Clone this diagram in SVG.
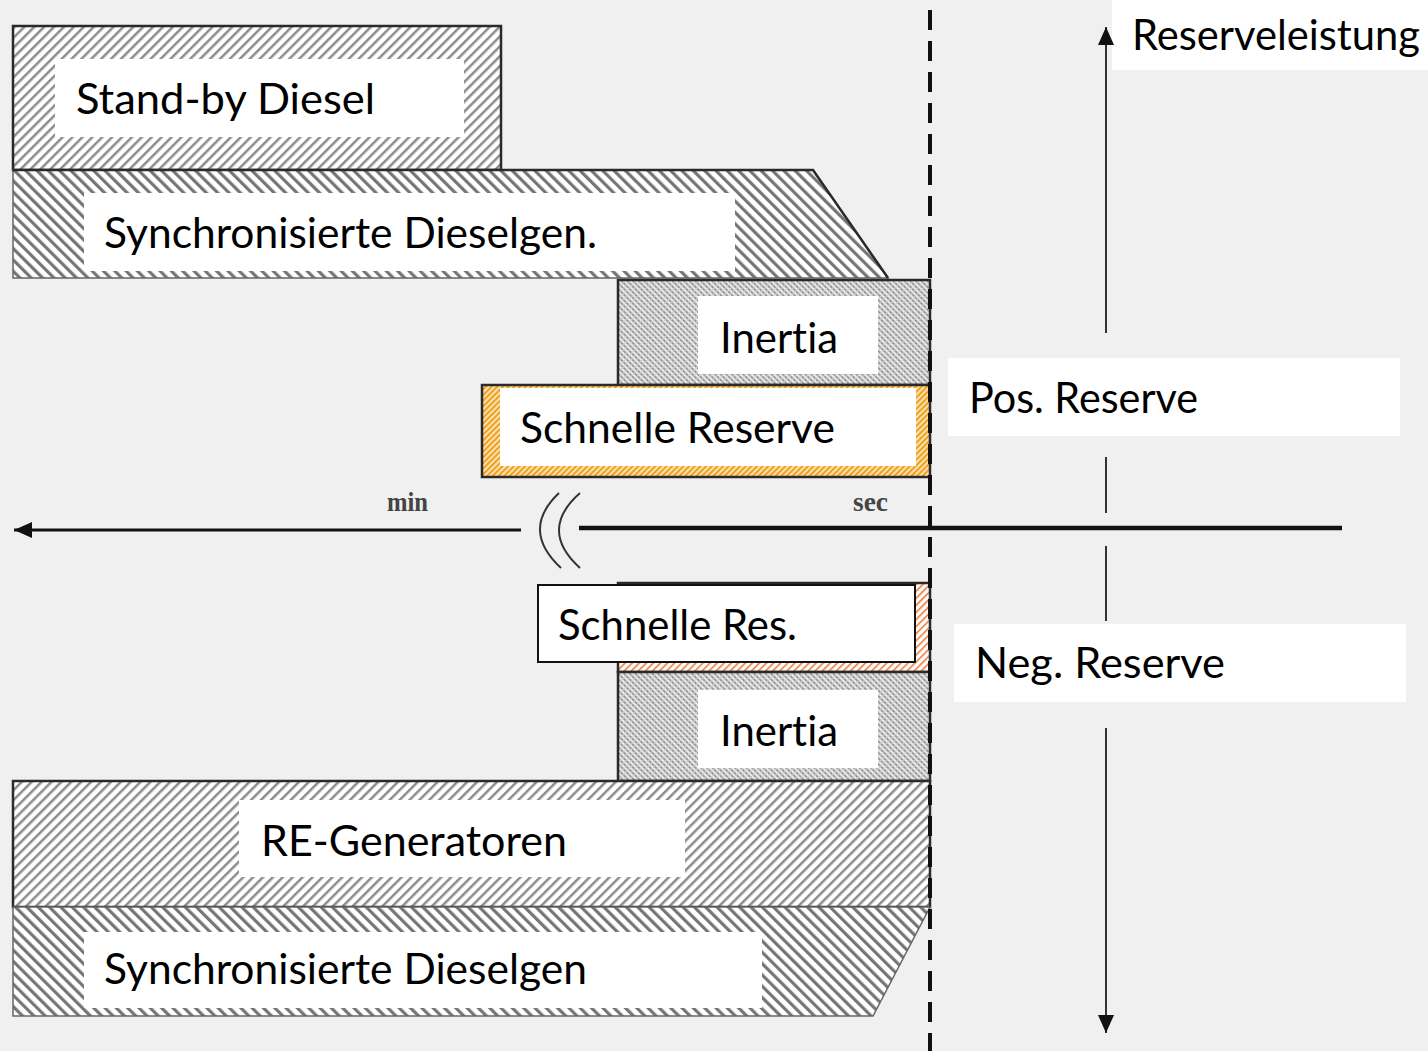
<svg xmlns="http://www.w3.org/2000/svg" width="1428" height="1051" viewBox="0 0 1428 1051">
  <style>
    .lbl { font-family: Lato, "Noto Sans", "Liberation Sans", sans-serif; font-size: 43px; fill: #000; font-variant-ligatures: none; font-feature-settings: "liga" 0, "clig" 0; }
    .unit { font-family: "Liberation Serif", "DejaVu Serif", serif; font-size: 27px; font-weight: bold; fill: #444; }
    .box { fill: #ffffff; }
    .edge { stroke: #2a2a2a; stroke-width: 2.5; }
    .soft { stroke: #666; stroke-width: 1.5; }
    .axis { stroke: #111; fill: none; }
    .vert { stroke: #333; stroke-width: 2; fill: none; }
    .brk { stroke: #333; stroke-width: 2; fill: none; }
  </style>
  <defs>
    <!-- "/" hatch: standby and RE generators -->
    <pattern id="hatchFwd" width="7" height="7" patternUnits="userSpaceOnUse" patternTransform="rotate(45)">
      <rect width="7" height="7" fill="#fff"/>
      <rect x="0" y="0" width="2.5" height="7" fill="#8c8c8c"/>
    </pattern>
    <!-- "\" hatch: synchronised diesel units -->
    <pattern id="hatchBack" width="8" height="8" patternUnits="userSpaceOnUse" patternTransform="rotate(-45)">
      <rect width="8" height="8" fill="#fff"/>
      <rect x="0" y="0" width="3.2" height="8" fill="#767676"/>
    </pattern>
    <!-- dense hatch: inertia -->
    <pattern id="hatchFine" width="4" height="4" patternUnits="userSpaceOnUse" patternTransform="rotate(-45)">
      <rect width="4" height="4" fill="#ececec"/>
      <rect x="0" y="0" width="1.8" height="4" fill="#939393"/>
      <rect x="0" y="0" width="4" height="1" fill="#d4d4d4"/>
    </pattern>
    <!-- orange hatch: fast reserve (positive) -->
    <pattern id="hatchOrange" width="4" height="4" patternUnits="userSpaceOnUse" patternTransform="rotate(45)">
      <rect width="4" height="4" fill="#fbe2b0"/>
      <rect x="0" y="0" width="2" height="4" fill="#f0a020"/>
    </pattern>
    <!-- reddish hatch: fast reserve (negative) -->
    <pattern id="hatchRed" width="5" height="5" patternUnits="userSpaceOnUse" patternTransform="rotate(45)">
      <rect width="5" height="5" fill="#fff"/>
      <rect x="0" y="0" width="1.6" height="5" fill="#f07a3a"/>
    </pattern>
    <marker id="arrow" viewBox="0 0 18 16" refX="18" refY="8" markerWidth="18" markerHeight="16" markerUnits="userSpaceOnUse" orient="auto">
      <path d="M0,0 L18,8 L0,16 Z" fill="#111"/>
    </marker>
  </defs>

  <rect width="1428" height="1051" fill="#f0f0f0"/>

  <!-- upper half: positive reserve contributions -->
  <g id="standby-diesel">
    <rect x="13" y="26" width="488" height="144" fill="url(#hatchFwd)" class="edge"/>
    <rect x="55" y="59" width="409" height="78" class="box"/>
    <text x="76" y="114" class="lbl" textLength="299" lengthAdjust="spacingAndGlyphs">Stand-by Diesel</text>
  </g>

  <g id="sync-diesel-top">
    <path d="M13,170 L813,170 L888,278 L13,278 Z" fill="url(#hatchBack)" class="soft"/>
    <path d="M13,170 L813,170 L888,278" fill="none" class="edge"/>
    <rect x="84" y="193" width="651" height="78" class="box"/>
    <text x="104" y="248" class="lbl" textLength="493" lengthAdjust="spacingAndGlyphs">Synchronisierte Dieselgen.</text>
  </g>

  <g id="inertia-top">
    <rect x="618" y="280" width="312" height="105" fill="url(#hatchFine)" class="edge"/>
    <rect x="698" y="296" width="180" height="78" class="box"/>
    <text x="720" y="353" class="lbl" textLength="118" lengthAdjust="spacingAndGlyphs">Inertia</text>
  </g>

  <g id="fast-reserve-top">
    <rect x="482" y="385" width="448" height="92" fill="url(#hatchOrange)" class="edge"/>
    <rect x="500" y="388" width="416" height="78" class="box"/>
    <text x="520" y="443" class="lbl" textLength="315" lengthAdjust="spacingAndGlyphs">Schnelle Reserve</text>
  </g>

  <!-- lower half: negative reserve contributions -->
  <g id="fast-reserve-bottom">
    <rect x="618" y="583" width="312" height="89" fill="url(#hatchRed)" class="edge"/>
    <rect x="538" y="585" width="377" height="77" class="box" stroke="#111" stroke-width="2"/>
    <text x="558" y="640" class="lbl" textLength="239" lengthAdjust="spacingAndGlyphs">Schnelle Res.</text>
  </g>

  <g id="inertia-bottom">
    <rect x="618" y="672" width="312" height="109" fill="url(#hatchFine)" class="edge"/>
    <rect x="698" y="690" width="180" height="78" class="box"/>
    <text x="720" y="746" class="lbl" textLength="118" lengthAdjust="spacingAndGlyphs">Inertia</text>
  </g>

  <g id="re-generators">
    <rect x="13" y="781" width="917" height="126" fill="url(#hatchFwd)" class="edge"/>
    <rect x="239" y="800" width="446" height="77" class="box"/>
    <text x="261" y="856" class="lbl" textLength="306" lengthAdjust="spacingAndGlyphs">RE-Generatoren</text>
  </g>

  <g id="sync-diesel-bottom">
    <path d="M13,907 L930,907 L873,1016 L13,1016 Z" fill="url(#hatchBack)" class="soft"/>
    <rect x="84" y="932" width="678" height="76" class="box"/>
    <text x="104" y="984" class="lbl" textLength="483" lengthAdjust="spacingAndGlyphs">Synchronisierte Dieselgen</text>
  </g>

  <!-- axis captions -->
  <g id="label-reserveleistung">
    <rect x="1112" y="0" width="316" height="70" class="box"/>
    <text x="1132" y="50" class="lbl" textLength="288" lengthAdjust="spacingAndGlyphs">Reserveleistung</text>
  </g>
  <g id="label-pos">
    <rect x="948" y="358" width="452" height="78" class="box"/>
    <text x="969" y="413" class="lbl" textLength="229" lengthAdjust="spacingAndGlyphs">Pos. Reserve</text>
  </g>
  <g id="label-neg">
    <rect x="954" y="624" width="452" height="78" class="box"/>
    <text x="975" y="678" class="lbl" textLength="250" lengthAdjust="spacingAndGlyphs">Neg. Reserve</text>
  </g>

  <!-- axes, time marker and break symbol -->
  <g id="connectors">
    <line x1="930" y1="10" x2="930" y2="1051" stroke="#111" stroke-width="4" stroke-dasharray="20 11"/>
    <line x1="521" y1="530" x2="14" y2="530" class="axis" stroke-width="3" marker-end="url(#arrow)"/>
    <line x1="579" y1="528" x2="1342" y2="528" class="axis" stroke-width="4.5"/>
    <path d="M559,493 Q520,530 561,568" class="brk"/>
    <path d="M580,493 Q538,530 580,568" class="brk"/>
    <text x="387" y="511" class="unit" textLength="41" lengthAdjust="spacingAndGlyphs">min</text>
    <text x="853" y="511" class="unit" textLength="35" lengthAdjust="spacingAndGlyphs">sec</text>
    <line x1="1106" y1="333" x2="1106" y2="27" class="vert" marker-end="url(#arrow)"/>
    <line x1="1106" y1="457" x2="1106" y2="513" class="vert"/>
    <line x1="1106" y1="546" x2="1106" y2="621" class="vert"/>
    <line x1="1106" y1="728" x2="1106" y2="1033" class="vert" marker-end="url(#arrow)"/>
  </g>
</svg>
